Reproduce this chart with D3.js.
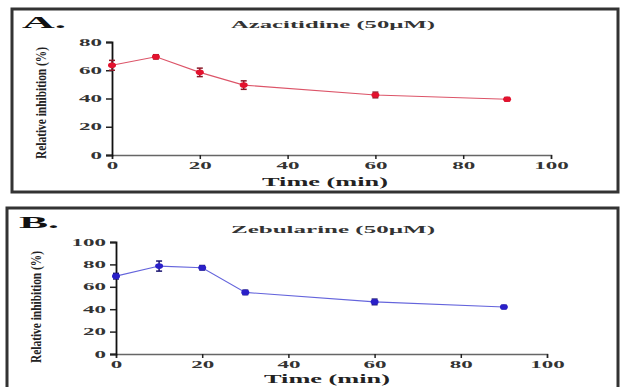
<!DOCTYPE html>
<html><head><meta charset="utf-8">
<script src="https://cdn.jsdelivr.net/npm/d3@7"></script>
<style>html,body{margin:0;padding:0;background:#fff;}svg{display:block;}</style>
</head><body>
<script>
const times = [0, 10, 20, 30, 60, 90];
const azaValues = [63.5, 69.5, 58.5, 49.5, 42.5, 39.5];
const azaErrors = [3.5, 1.5, 3, 3, 2, 1.2];
const zebValues = [69.5, 78.5, 77, 55, 46.5, 42];
const zebErrors = [2.5, 4.5, 2, 2, 2.5, 1.5];
const azaYTicks = [0, 20, 40, 60, 80];
const zebYTicks = [0, 20, 40, 60, 80, 100];
const xTicks = [0, 20, 40, 60, 80, 100];

const W = 620, H = 387;
const svg = d3.select("body").append("svg").attr("width", W).attr("height", H);
const FONT = "'Liberation Serif','Times New Roman',serif";

function stretch(sel, perChar) {
  sel.each(function() {
    const t = d3.select(this);
    const n = t.text().length;
    t.attr("textLength", n * perChar).attr("lengthAdjust", "spacingAndGlyphs");
  });
}

function panel(o) {
  const g = svg.append("g");
  g.append("rect").attr("x", o.box[0]).attr("y", o.box[1])
    .attr("width", o.box[2]).attr("height", o.box[3])
    .attr("fill", "none").attr("stroke", "#333").attr("stroke-width", 3);

  g.append("text").attr("x", o.letterPos[0]).attr("y", o.letterPos[1])
    .attr("font-family", FONT).attr("font-weight", "bold").attr("font-size", 16)
    .attr("textLength", o.letterW).attr("lengthAdjust", "spacingAndGlyphs")
    .attr("fill", "#111").text(o.letter);

  g.append("text").attr("x", o.titlePos[0]).attr("y", o.titlePos[1])
    .attr("text-anchor", "middle")
    .attr("font-family", FONT).attr("font-weight", "bold").attr("font-size", 10.5)
    .attr("textLength", o.titleW).attr("lengthAdjust", "spacingAndGlyphs")
    .attr("fill", "#333").text(o.title);

  const x = d3.scaleLinear().domain([0, 100]).range(o.xr);
  const y = d3.scaleLinear().domain([0, o.yMax]).range(o.yr);

  const xa = g.append("g").attr("transform", `translate(0,${o.yr[0]})`)
    .call(d3.axisBottom(x).tickValues(xTicks).tickSize(4).tickPadding(3).tickFormat(d3.format("d")));
  xa.select(".domain").attr("stroke", "#666").attr("stroke-width", 1.5);
  xa.selectAll(".tick line").attr("stroke", "#222").attr("stroke-width", 1.5);
  xa.selectAll("text").attr("font-family", FONT).attr("font-weight", "bold")
    .attr("font-size", 9.5).attr("fill", "#333").call(stretch, 11.5);

  const ya = g.append("g").attr("transform", `translate(${o.xr[0]},0)`)
    .call(d3.axisLeft(y).tickValues(o.yTicks).tickSize(6).tickPadding(4).tickFormat(d3.format("d")));
  ya.select(".domain").attr("stroke", "#111").attr("stroke-width", 1.8);
  ya.selectAll(".tick line").attr("stroke", "#222").attr("stroke-width", 1.5);
  ya.selectAll("text").attr("font-family", FONT).attr("font-weight", "bold")
    .attr("font-size", 9.5).attr("fill", "#333").call(stretch, 11.5);

  g.append("text").attr("x", o.xTitle[0]).attr("y", o.xTitle[1])
    .attr("text-anchor", "middle")
    .attr("font-family", FONT).attr("font-weight", "bold").attr("font-size", 11.5)
    .attr("textLength", 126).attr("lengthAdjust", "spacingAndGlyphs")
    .attr("fill", "#222").text("Time (min)");

  g.append("text").attr("transform", `translate(${o.yTitle[0]},${o.yTitle[1]}) rotate(-90)`)
    .attr("text-anchor", "middle")
    .attr("font-family", FONT).attr("font-weight", "bold").attr("font-size", 15)
    .attr("textLength", 112).attr("lengthAdjust", "spacingAndGlyphs")
    .attr("fill", "#222").text("Relative inhibition (%)");

  const data = times.map((t, i) => ({t, v: o.values[i], e: o.errors[i]}));
  g.append("path").datum(data)
    .attr("d", d3.line().x(d => x(d.t)).y(d => y(d.v)))
    .attr("fill", "none").attr("stroke", o.lineColor).attr("stroke-width", 1.1);

  const eb = g.selectAll(".eb").data(data).enter().append("g");
  eb.append("line").attr("x1", d => x(d.t)).attr("x2", d => x(d.t))
    .attr("y1", d => y(d.v - d.e)).attr("y2", d => y(d.v + d.e))
    .attr("stroke", o.errColor).attr("stroke-width", 1.5);
  eb.append("line").attr("x1", d => x(d.t) - 3).attr("x2", d => x(d.t) + 3)
    .attr("y1", d => y(d.v + d.e)).attr("y2", d => y(d.v + d.e))
    .attr("stroke", o.errColor).attr("stroke-width", 1.5);
  eb.append("line").attr("x1", d => x(d.t) - 3).attr("x2", d => x(d.t) + 3)
    .attr("y1", d => y(d.v - d.e)).attr("y2", d => y(d.v - d.e))
    .attr("stroke", o.errColor).attr("stroke-width", 1.5);
  eb.append("ellipse").attr("cx", d => x(d.t)).attr("cy", d => y(d.v))
    .attr("rx", 4).attr("ry", 2.8).attr("fill", o.markColor);
}

panel({
  box: [12, 9, 606, 183], letter: "A.", letterPos: [22, 28], letterW: 44,
  title: "Azacitidine (50\u00B5M)", titlePos: [333, 28], titleW: 204,
  xr: [112, 551], yr: [155, 42], yMax: 80, yTicks: azaYTicks,
  xTitle: [325, 186], yTitle: [46, 103],
  values: azaValues, errors: azaErrors,
  lineColor: "#dc5468", errColor: "#8a1828", markColor: "#e3122e"
});

panel({
  box: [7, 208, 611, 190], letter: "B.", letterPos: [19, 228], letterW: 40,
  title: "Zebularine (50\u00B5M)", titlePos: [333, 233], titleW: 204,
  xr: [116, 547], yr: [354, 242], yMax: 100, yTicks: zebYTicks,
  xTitle: [327, 383], yTitle: [41, 307],
  values: zebValues, errors: zebErrors,
  lineColor: "#6464dc", errColor: "#1a1470", markColor: "#2a20c8"
});
</script>
</body></html>
